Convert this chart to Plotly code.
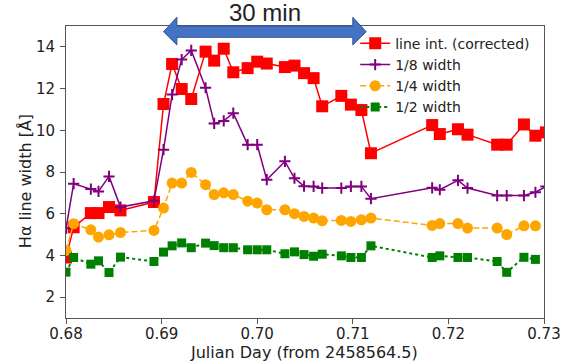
import plotly.graph_objects as go

# ---- data ----
JD = [0.6800, 0.6808, 0.6826, 0.6834, 0.6845, 0.6857, 0.6892, 0.6902, 0.6911, 0.6921,
      0.6931, 0.6946, 0.6955, 0.6965, 0.6975, 0.6990, 0.7000, 0.7010, 0.7029, 0.7039,
      0.7049, 0.7059, 0.7068, 0.7088, 0.7098, 0.7109, 0.7119, 0.7183, 0.7191, 0.7210,
      0.7220, 0.7251, 0.7261, 0.7279, 0.7291]
JD_NEXT = 0.7302  # next sample, just outside the shown range

LINE_INT = [3.9, 5.35, 6.03, 6.03, 6.32, 6.16, 6.56, 11.26, 13.18, 11.98,
            11.5, 13.77, 13.34, 13.91, 12.78, 12.98, 13.29, 13.2, 13.03, 13.1,
            12.74, 12.5, 11.15, 11.65, 11.23, 10.97, 8.9, 10.25, 9.82, 10.05,
            9.79, 9.31, 9.31, 10.28, 9.74]
LINE_INT_NEXT = 9.9

W18 = [5.3, 7.44, 7.18, 7.07, 7.79, 6.32, 6.62, 9.07, 11.71, 13.39,
       13.83, 12.04, 10.33, 10.45, 10.82, 9.31, 9.31, 7.63, 8.51, 7.7,
       7.32, 7.31, 7.23, 7.23, 7.31, 7.31, 6.72, 7.24, 7.15, 7.6,
       7.23, 6.87, 6.87, 6.87, 7.03]
W18_NEXT = 7.3

W14 = [4.24, 5.52, 5.23, 4.88, 4.99, 5.1, 5.2, 6.27, 7.47, 7.47,
       7.98, 7.39, 6.92, 7.0, 6.92, 6.6, 6.51, 6.19, 6.19, 6.0,
       5.87, 5.79, 5.66, 5.68, 5.63, 5.71, 5.79, 5.44, 5.53, 5.53,
       5.31, 5.31, 5.0, 5.42, 5.42]

W12 = [3.2, 3.9, 3.58, 3.74, 3.18, 3.92, 3.71, 4.16, 4.46, 4.6,
       4.37, 4.59, 4.47, 4.37, 4.37, 4.27, 4.27, 4.27, 4.08, 4.17,
       4.04, 3.96, 4.06, 3.98, 3.9, 3.9, 4.46, 3.9, 3.98, 3.9,
       3.9, 3.71, 3.19, 3.91, 3.81]

X_RANGE = [0.68, 0.73]
Y_RANGE = [1, 15]
X_TICKS = [0.68, 0.69, 0.70, 0.71, 0.72, 0.73]
X_TICKTEXT = ["0.68", "0.69", "0.70", "0.71", "0.72", "0.73"]
Y_TICKS = [2, 4, 6, 8, 10, 12, 14]

ARROW_X = [0.6902, 0.7114]
ARROW_LABEL = "30 min"
X_TITLE = "Julian Day (from 2458564.5)"
Y_TITLE = "Hα line width [Å]"

FONT = "DejaVu Sans"
TXT = "#222222"

fig = go.Figure()
fig.add_trace(go.Scatter(
    x=JD + [JD_NEXT], y=LINE_INT + [LINE_INT_NEXT], name="line int. (corrected)",
    mode="lines+markers", line=dict(color="#ff0000", width=1.5),
    marker=dict(symbol="square", size=12, color="#ff0000")))
fig.add_trace(go.Scatter(
    x=JD + [JD_NEXT], y=W18 + [W18_NEXT], name="1/8 width",
    mode="lines+markers", line=dict(color="#800080", width=1.5),
    marker=dict(symbol="cross-thin", size=8, color="#800080",
                line=dict(color="#800080", width=2))))
fig.add_trace(go.Scatter(
    x=JD, y=W14, name="1/4 width",
    mode="lines+markers", line=dict(color="#ffa500", width=1.5, dash="6px,3px"),
    marker=dict(symbol="circle", size=11, color="#ffa500")))
fig.add_trace(go.Scatter(
    x=JD, y=W12, name="1/2 width",
    mode="lines+markers", line=dict(color="#008000", width=2, dash="dot"),
    marker=dict(symbol="square", size=9, color="#008000")))

# double-headed block arrow (x in data units, y in paper units)
x0, x1 = ARROW_X
hl = 0.0014
y_tip, y_ht, y_hb, y_st, y_sb = 0.9805, 1.030, 0.935, 1.000, 0.9613
path = (f"M {x0},{y_tip} L {x0+hl},{y_ht} L {x0+hl},{y_st} L {x1-hl},{y_st} "
        f"L {x1-hl},{y_ht} L {x1},{y_tip} L {x1-hl},{y_hb} L {x1-hl},{y_sb} "
        f"L {x0+hl},{y_sb} L {x0+hl},{y_hb} Z")
fig.add_shape(type="path", xref="x", yref="paper", path=path,
              fillcolor="#4472C4", line=dict(color="#2F5597", width=1), layer="above")
fig.add_annotation(x=(x0 + x1) / 2, xref="x", y=1.046, yref="paper",
                   text=ARROW_LABEL, showarrow=False, yanchor="middle",
                   font=dict(family="Liberation Sans", size=24, color=TXT))

# axis titles
fig.add_annotation(x=0.497, xref="paper", y=-0.117, yref="paper", text=X_TITLE,
                   showarrow=False, xanchor="center", yanchor="middle", borderpad=0,
                   font=dict(family=FONT, size=16, color=TXT))
fig.add_annotation(x=-0.085, xref="paper", y=0.47, yref="paper", text=Y_TITLE,
                   showarrow=False, xanchor="center", yanchor="middle", textangle=-90,
                   borderpad=0, font=dict(family=FONT, size=16, color=TXT))

axis_common = dict(showline=True, linecolor="#555555", linewidth=1, mirror=True,
                   ticks="outside", ticklen=5, tickcolor="#555555", showgrid=False,
                   zeroline=False, tickfont=dict(family=FONT, size=15, color=TXT))
fig.update_xaxes(range=X_RANGE, tickvals=X_TICKS, ticktext=X_TICKTEXT,
                 ticklabelstandoff=-3, **axis_common)
fig.update_yaxes(range=Y_RANGE, tickvals=Y_TICKS, ticklabelstandoff=2, **axis_common)

fig.update_layout(
    width=574, height=362,
    margin=dict(l=66, r=30, t=26, b=44, autoexpand=False),
    paper_bgcolor="white", plot_bgcolor="white",
    showlegend=True,
    legend=dict(x=0.605, y=0.994, xanchor="left", yanchor="top",
                bgcolor="rgba(0,0,0,0)", borderwidth=0,
                font=dict(family=FONT, size=14, color=TXT),
                itemwidth=30, tracegroupgap=0),
)

fig.write_html("out.html", config={"displayModeBar": False},
               post_script="document.body.style.margin='0';"
                           "document.body.style.overflow='hidden';")
